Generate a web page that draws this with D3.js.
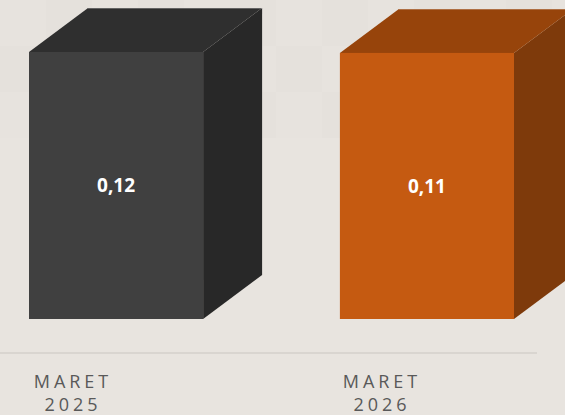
<!DOCTYPE html>
<html>
<head>
<meta charset="utf-8">
<script src="https://cdn.jsdelivr.net/npm/d3@7"></script>
<style>
  html, body { margin: 0; padding: 0; background: #e8e4df; }
  svg { display: block; }
</style>
</head>
<body>
<div id="graphicContainer"></div>
<script>

// chart data
const categories = ["MARET 2025", "MARET 2026"]
const values = [0.1152, 0.1148]
const faceColors = ["#404040", "#c55a11"]
const topColors = ["#2f2f2f", "#97440b"]
const sideColors = ["#282828", "#7e3a0b"]

const width = 565
const height = 415
const depthX = 59
const depthY = 44

const svg = d3.select("#graphicContainer")
  .append("svg")
  .attr("width", width)
  .attr("height", height)

// background with faint tiles
svg.append("rect")
  .attr("width", width)
  .attr("height", height)
  .attr("fill", "#e8e4df")

const tiles = svg.append("g").attr("opacity", 0.35)
d3.range(0, width, 46).forEach((tx, i) => {
  d3.range(0, 130, 46).forEach((ty, j) => {
    tiles.append("rect")
      .attr("x", tx).attr("y", ty)
      .attr("width", 46).attr("height", 46)
      .attr("fill", (i + j) % 2 ? "#e0dcd7" : "#e6e2dd")
  })
})

const x = d3.scaleBand()
  .domain(categories)
  .range([29, 514])
  .paddingInner(0.44)
  .paddingOuter(0)

const y = d3.scaleLinear()
  .domain([0, d3.max(values)])
  .range([319, 52])

const labelX = d3.scalePoint()
  .domain(categories)
  .range([71, 380])

// baseline
svg.append("line")
  .attr("x1", 0)
  .attr("x2", 537)
  .attr("y1", 353)
  .attr("y2", 353)
  .attr("stroke", "#d9d5d0")
  .attr("stroke-width", 2)

const bars = svg.selectAll(".bar")
  .data(categories)
  .enter()
  .append("g")
  .attr("class", "bar")

bars.each(function(c, i) {
  const g = d3.select(this)
  const x0 = x(c)
  const x1 = x0 + x.bandwidth()
  const yTop = y(values[i])
  const yBot = y(0)

  // side face
  g.append("path")
    .attr("d", `M${x1},${yTop} L${x1 + depthX},${yTop - depthY} L${x1 + depthX},${yBot - depthY} L${x1},${yBot} Z`)
    .attr("fill", sideColors[i])

  // top face
  g.append("path")
    .attr("d", `M${x0},${yTop} L${x0 + depthX},${yTop - depthY} L${x1 + depthX},${yTop - depthY} L${x1},${yTop} Z`)
    .attr("fill", topColors[i])

  // front face
  g.append("rect")
    .attr("x", x0)
    .attr("y", yTop)
    .attr("width", x.bandwidth())
    .attr("height", yBot - yTop)
    .attr("fill", faceColors[i])

  // faint highlight on the back top edge
  g.append("line")
    .attr("x1", x0 + depthX)
    .attr("x2", x1 + depthX)
    .attr("y1", yTop - depthY + 0.5)
    .attr("y2", yTop - depthY + 0.5)
    .attr("stroke", "#ffffff")
    .attr("stroke-opacity", 0.25)

  g.append("text")
    .attr("x", (x0 + x1) / 2)
    .attr("y", (yTop + yBot) / 2)
    .attr("dy", "0.35em")
    .attr("text-anchor", "middle")
    .attr("fill", "#ffffff")
    .style("font-family", "'Open Sans', sans-serif")
    .style("font-weight", "bold")
    .style("font-size", "19px")
    .text(d3.format(".2f")(values[i]).replace(".", ","))
})

// category labels
const labels = svg.selectAll(".catLabel")
  .data(categories)
  .enter()
  .append("text")
  .attr("class", "catLabel")
  .attr("text-anchor", "middle")
  .attr("fill", "#595959")
  .style("font-family", "'Open Sans', sans-serif")
  .style("font-size", "18px")
  .style("letter-spacing", "4px")

labels.each(function(c) {
  const parts = c.split(" ")
  const t = d3.select(this)
  parts.forEach((p, k) => {
    t.append("tspan")
      .attr("x", labelX(c) + 2)
      .attr("y", 388 + k * 23)
      .text(p)
  })
})

</script>
</body>
</html>
